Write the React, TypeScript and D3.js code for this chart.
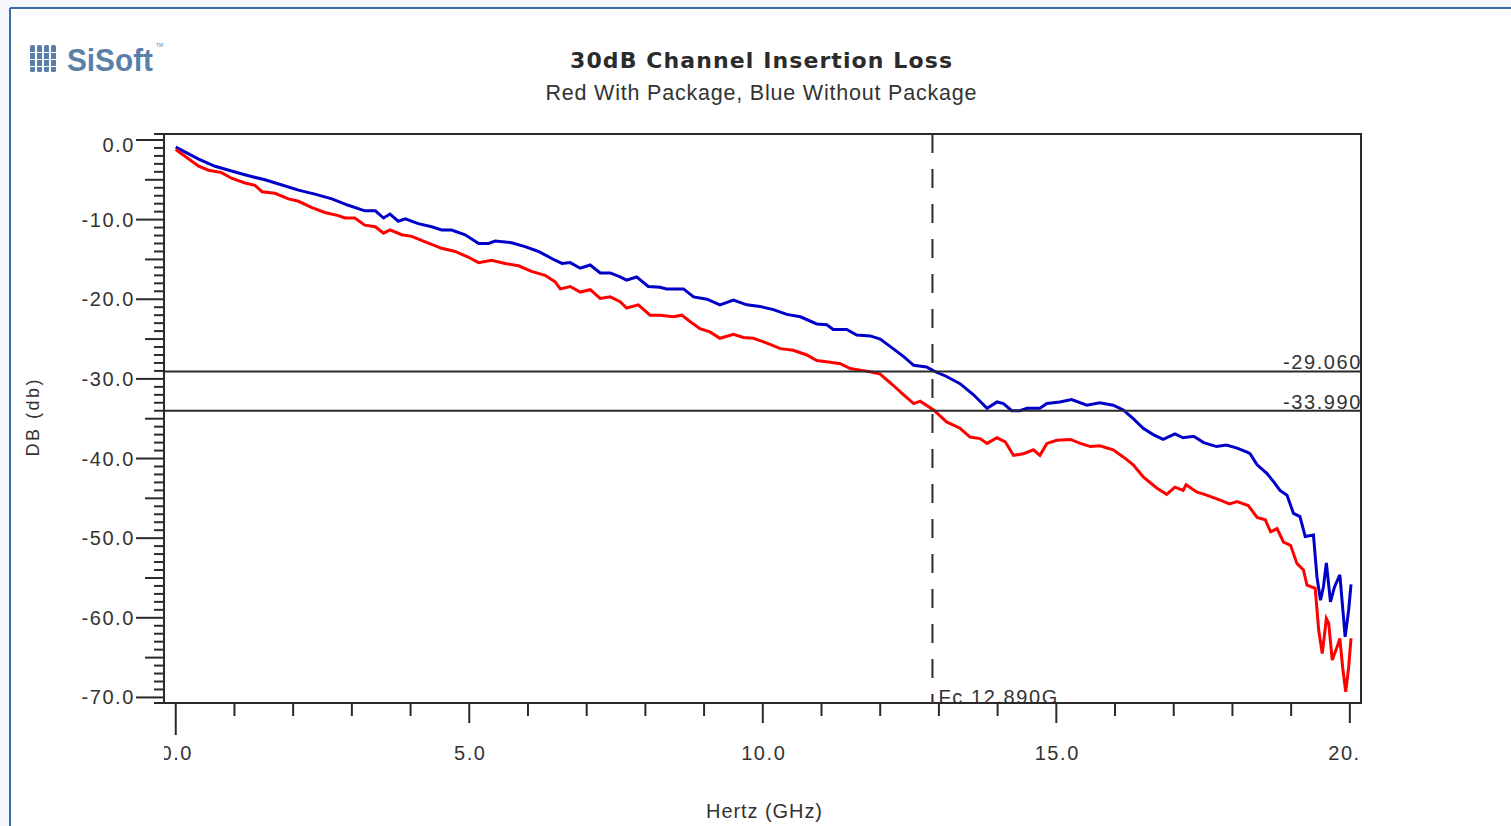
import React from "react";
import * as d3 from "d3";

// ---- data ----
const blueFreq = [0.00,0.39,0.67,0.95,1.24,1.52,1.81,2.09,2.37,2.66,2.94,3.22,3.40,3.54,3.65,3.79,3.91,4.13,4.36,4.53,4.70,4.93,5.16,5.33,5.44,5.72,5.95,6.18,6.46,6.58,6.72,6.89,7.06,7.23,7.40,7.57,7.68,7.85,8.05,8.25,8.36,8.65,8.82,9.05,9.27,9.50,9.73,9.95,10.18,10.41,10.64,10.92,11.09,11.20,11.43,11.60,11.83,12.00,12.22,12.40,12.57,12.79,12.91,13.13,13.36,13.59,13.82,13.99,14.10,14.24,14.38,14.50,14.72,14.84,15.06,15.26,15.52,15.74,15.97,16.14,16.31,16.48,16.65,16.82,17.02,17.16,17.34,17.51,17.73,17.90,18.08,18.25,18.30,18.42,18.59,18.70,18.81,18.93,19.04,19.15,19.24,19.38,19.44,19.50,19.55,19.60,19.67,19.74,19.83,19.92,19.98,20.02];
const blueDb = [-0.9,-2.4,-3.3,-3.9,-4.5,-5.0,-5.65,-6.3,-6.8,-7.4,-8.2,-8.9,-8.9,-9.8,-9.3,-10.2,-9.9,-10.5,-10.9,-11.3,-11.3,-11.9,-13.0,-13.0,-12.7,-12.9,-13.4,-14.0,-15.1,-15.5,-15.4,-16.1,-15.7,-16.7,-16.7,-17.2,-17.6,-17.2,-18.4,-18.5,-18.7,-18.7,-19.7,-20.0,-20.7,-20.1,-20.7,-20.9,-21.3,-21.9,-22.2,-23.1,-23.2,-23.8,-23.8,-24.5,-24.6,-25.0,-26.2,-27.2,-28.3,-28.5,-29.0,-29.7,-30.6,-32.0,-33.7,-32.9,-33.1,-34.0,-34.0,-33.7,-33.7,-33.1,-32.9,-32.6,-33.3,-33.0,-33.3,-33.9,-35.0,-36.2,-37.0,-37.6,-36.9,-37.4,-37.2,-38.0,-38.5,-38.3,-38.7,-39.2,-39.4,-40.8,-41.9,-42.9,-44.0,-44.6,-46.9,-47.3,-49.8,-49.6,-54.9,-57.8,-56.1,-53.1,-58.0,-56.1,-54.6,-62.4,-59.0,-55.8];

const redFreq = [0.00,0.39,0.56,0.78,0.95,1.18,1.35,1.47,1.69,1.92,2.09,2.32,2.54,2.77,2.88,3.05,3.22,3.40,3.54,3.65,3.85,4.02,4.25,4.53,4.76,4.98,5.16,5.38,5.61,5.84,6.06,6.29,6.46,6.55,6.72,6.89,7.06,7.23,7.40,7.57,7.68,7.88,8.08,8.25,8.48,8.62,8.76,8.93,9.10,9.27,9.50,9.67,9.84,10.07,10.30,10.52,10.75,10.92,11.15,11.32,11.49,11.66,11.83,12.00,12.22,12.40,12.57,12.68,12.91,13.13,13.36,13.53,13.70,13.82,13.99,14.13,14.27,14.44,14.61,14.72,14.84,15.01,15.24,15.41,15.58,15.74,15.97,16.14,16.31,16.48,16.71,16.88,17.02,17.16,17.21,17.39,17.56,17.78,17.95,18.08,18.27,18.42,18.56,18.65,18.76,18.87,18.99,19.10,19.21,19.27,19.41,19.47,19.53,19.60,19.64,19.70,19.78,19.83,19.88,19.93,19.98,20.02];
const redDb = [-1.2,-3.3,-3.8,-4.1,-4.8,-5.4,-5.7,-6.5,-6.7,-7.4,-7.7,-8.5,-9.1,-9.5,-9.8,-9.8,-10.7,-10.9,-11.7,-11.3,-11.9,-12.1,-12.8,-13.6,-14.0,-14.7,-15.4,-15.1,-15.5,-15.8,-16.5,-17.0,-17.8,-18.7,-18.4,-19.1,-18.8,-19.9,-19.7,-20.3,-21.1,-20.7,-22.0,-22.0,-22.2,-22.0,-22.8,-23.7,-24.1,-24.9,-24.4,-24.8,-24.9,-25.5,-26.2,-26.4,-27.0,-27.7,-27.9,-28.1,-28.7,-28.9,-29.1,-29.4,-30.8,-32.0,-33.1,-32.8,-33.9,-35.4,-36.2,-37.3,-37.5,-38.1,-37.4,-37.9,-39.6,-39.4,-38.9,-39.6,-38.1,-37.7,-37.6,-38.1,-38.5,-38.4,-38.9,-39.8,-40.8,-42.3,-43.7,-44.5,-43.6,-44.0,-43.3,-44.2,-44.6,-45.2,-45.7,-45.4,-45.9,-47.4,-47.7,-49.2,-48.8,-50.5,-50.9,-53.2,-54.0,-55.9,-56.3,-61.6,-64.5,-60.1,-60.7,-65.3,-63.7,-62.6,-66.4,-69.3,-66.2,-62.6];

const xTickLabels = [0, 5, 10, 15, 20];
const yTickLabels = [0, -10, -20, -30, -40, -50, -60, -70];
const markerLevels = [-29.06, -33.99];
const cutoffFreq = 12.89;

const title = "30dB Channel Insertion Loss";
const subtitle = "Red With Package, Blue Without Package";

export default function App() {
  const W = 1511, H = 826;
  const L = 164, R = 1361, T = 134, B = 703;
  const x = d3.scaleLinear().domain([-0.2, 20.19]).range([L, R]);
  const y = d3.scaleLinear().domain([0.75, -70.7]).range([T, B]);

  const line = d3.line<[number, number]>().x(d => x(d[0])).y(d => y(d[1]));
  const bluePts = blueFreq.map((f, i) => [f, blueDb[i]] as [number, number]);
  const redPts = redFreq.map((f, i) => [f, redDb[i]] as [number, number]);

  const yMinor = d3.range(0, -71, -1);
  const xMinor = d3.range(0, 21, 1);
  const tickFont = "'Liberation Sans', Arial, sans-serif";
  const tickSize = 20;
  const tickSpacing = 1.6;
  const axisColor = "#2a2a2a";

  return (
    <svg width={W} height={H} style={{ position: "absolute", left: 0, top: 0, background: "#fff" }}>
      <defs>
        <clipPath id="plotClip"><rect x={L} y={T} width={R - L} height={B - T} /></clipPath>
        <clipPath id="xLabClip"><rect x={L} y={B} width={R - L} height={100} /></clipPath>
        <clipPath id="yLabClip"><rect x={0} y={T - 10} width={L} height={B - T + 11} /></clipPath>
      </defs>
      {/* page outside frame */}
      <rect x={0} y={0} width={W} height={8} fill="#f4f7fb" />
      <rect x={0} y={0} width={10} height={H} fill="#f4f7fb" />
      <line x1={10} y1={8} x2={W} y2={8} stroke="#3b6ca6" strokeWidth={2} />
      <line x1={10} y1={8} x2={10} y2={H} stroke="#3b6ca6" strokeWidth={2} />

      {/* logo */}
      <g fill="#5a7fa9">
        {[0, 1, 2, 3].map(i => (
          <rect key={i} x={30 + i * 7} y={45} width={5} height={27} rx={1.5} />
        ))}
        {[0, 1, 2].map(i => (
          <rect key={"h" + i} x={29} y={52 + i * 7} width={30} height={1} fill="#fff" />
        ))}
        <text x={67} y={71} fontFamily="'Liberation Sans', Arial, sans-serif" fontWeight="bold" fontSize={31} textLength={86} lengthAdjust="spacingAndGlyphs">SiSoft</text>
      </g>
      <text x={156} y={47} fontFamily="'Liberation Sans', Arial, sans-serif" fontSize={5} fill="#5a7fa9">TM</text>

      {/* titles */}
      <text x={761} y={68} textAnchor="middle" fontFamily="'DejaVu Sans', sans-serif" fontWeight="bold" fontSize={22} fill="#2b2b2b" textLength={382} lengthAdjust="spacing">{title}</text>
      <text x={761} y={100} textAnchor="middle" fontFamily="'Liberation Sans', Arial, sans-serif" fontSize={21.5} fill="#333" textLength={431} lengthAdjust="spacing">{subtitle}</text>

      {/* curves */}
      <g clipPath="url(#plotClip)">
        <path d={line(bluePts) || ""} fill="none" stroke="#0000c8" strokeWidth={3} strokeLinejoin="miter" />
        <path d={line(redPts) || ""} fill="none" stroke="#ff0000" strokeWidth={3} strokeLinejoin="miter" />
      </g>

      {/* marker lines */}
      {markerLevels.map(v => (
        <g key={v}>
          <line x1={L} x2={R} y1={y(v)} y2={y(v)} stroke={axisColor} strokeWidth={2} />
          <text x={R + 1} y={y(v) - 2} textAnchor="end" fontFamily={tickFont} fontSize={tickSize} letterSpacing={tickSpacing} fill="#333">{v.toFixed(3)}</text>
        </g>
      ))}
      <line x1={x(cutoffFreq)} x2={x(cutoffFreq)} y1={T} y2={B} stroke={axisColor} strokeWidth={2} strokeDasharray="19 16" />
      <g clipPath="url(#plotClip)">
        <text x={x(cutoffFreq) + 6} y={B + 1} fontFamily={tickFont} fontSize={tickSize} letterSpacing={tickSpacing} fill="#333">{"Fc " + cutoffFreq.toFixed(3).replace(".", ",") + "G"}</text>
      </g>

      {/* plot frame */}
      <rect x={L} y={T} width={R - L} height={B - T} fill="none" stroke={axisColor} strokeWidth={2} />
      <line x1={L - 10} x2={L} y1={T} y2={T} stroke={axisColor} strokeWidth={2} />
      <line x1={L - 10} x2={L} y1={B} y2={B} stroke={axisColor} strokeWidth={2} />

      {/* y ticks */}
      {yMinor.map(v => {
        const len = v % 10 === 0 ? 28 : v % 5 === 0 ? 19 : 10;
        return <line key={v} x1={L - len} x2={L} y1={y(v)} y2={y(v)} stroke={axisColor} strokeWidth={2} />;
      })}
      <g clipPath="url(#yLabClip)">
        {yTickLabels.map(v => (
          <text key={v} x={135} y={y(v) + (v === 0 ? 12 : 7)} textAnchor="end" fontFamily={tickFont} fontSize={tickSize} letterSpacing={tickSpacing} fill="#333">{v.toFixed(1)}</text>
        ))}
      </g>

      {/* x ticks */}
      {xMinor.map(v => {
        const len = v === 0 ? 32 : v % 5 === 0 ? 20 : 13;
        return <line key={v} x1={x(v)} x2={x(v)} y1={B} y2={B + len} stroke={axisColor} strokeWidth={2} />;
      })}
      <g clipPath="url(#xLabClip)">
        {xTickLabels.map(v => (
          <text key={v} x={x(v) + 1} y={760} textAnchor="middle" fontFamily={tickFont} fontSize={tickSize} letterSpacing={tickSpacing} fill="#333">{v.toFixed(1)}</text>
        ))}
      </g>

      {/* axis titles */}
      <text x={764} y={818} textAnchor="middle" fontFamily={tickFont} fontSize={20} fill="#333" textLength={116} lengthAdjust="spacing">Hertz (GHz)</text>
      <text transform="translate(39,418) rotate(-90)" textAnchor="middle" fontFamily={tickFont} fontSize={18} fill="#333" textLength={77} lengthAdjust="spacing">DB (db)</text>
    </svg>
  );
}
